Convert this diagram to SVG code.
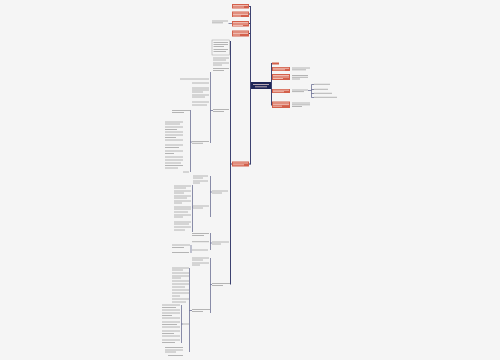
<svg xmlns="http://www.w3.org/2000/svg" width="500" height="360" viewBox="0 0 500 360">
<style>
.c{fill:none;stroke:#3d4270;stroke-width:1}
.c2{fill:none;stroke:#5a5f86;stroke-width:0.7}
.tl{fill:none;stroke:#a3a3a3;stroke-width:0.8}
.wt{fill:none;stroke:#fbe3dc;stroke-width:0.7}
.o{fill:#d3604b}
.n{fill:#1e2657}
.box{fill:none;stroke:#a0a0a0;stroke-width:0.5}
</style>
<rect width="500" height="360" fill="#f5f5f5"/>
<g id="connectors">
<path class="c" d="M271.5 63 V105.5 M250.5 6 V164.5 M249 6.5 H250.5 M249 14 H250.5 M249 23.5 H250.5 M249 33.5 H250.5 M249 164 H250.5 M230.5 41 V284.5 M230.5 164 H232"/>
<path class="c2" d="M308 90.5 H311.5 M311.5 84.5 V97.5 M311.5 84.5 H314 M311.5 89.5 H314 M311.5 93.5 H314 M311.5 97.5 H314 M228.5 23.5 H232"/>
<path class="c2" d="M210.5 72 V143 M210.5 110.5 H213 M190.5 110 V172 M190.5 142 H192"/>
<path class="c2" d="M210.5 176 V217 M210.5 192 H212 M192.5 185 V232 M192.5 207 H193"/>
<path class="c2" d="M210.5 233 V250 M210.5 243 H212 M191 245 V253"/>
<path class="c2" d="M210.5 258 V313 M210.5 284.5 H212 M189.5 268 V352 M189.5 310.5 H192 M181.5 305 V343 M181.5 324 H183"/>
</g>
<g id="central"><rect class="n" x="251" y="82" width="20" height="7"/><path class="wt" d="M253 84.5 H269 M255 86.8 H267"/></g>
<g id="r-tag"><rect class="o" x="272" y="62.5" width="7" height="2"/></g>
<g id="r1"><rect class="o" x="272" y="67" width="18" height="4"/><path class="wt" d="M273 68.3 H289 M273 69.8 H285"/><path class="tl" d="M292 68 H310 M292 69.8 H306"/></g>
<g id="r2"><rect class="o" x="272" y="74" width="18" height="6"/><path class="wt" d="M273 75.5 H289 M273 77 H289 M273 78.5 H283"/><path class="tl" d="M292 75.5 H308 M292 77.3 H308 M292 79 H300"/></g>
<g id="r3"><rect class="o" x="272" y="89" width="18" height="4"/><path class="wt" d="M273 90.2 H289 M273 91.7 H284"/><path class="tl" d="M292 90 H308 M292 91.6 H304"/></g>
<g id="r3-items"><path class="tl" d="M314 84.3 H330 M314 89.3 H328 M314 93.3 H332 M314 97.3 H337"/></g>
<g id="r4"><rect class="o" x="272" y="101.5" width="18" height="6.5"/><path class="wt" d="M273 103 H289 M273 104.6 H289 M273 106.2 H282"/><path class="tl" d="M292 103 H310 M292 104.8 H310 M292 106.5 H302"/></g>
<g id="l1"><rect class="o" x="232" y="4" width="17" height="4.5"/><path class="wt" d="M233 5.5 H248 M233 7 H244"/></g>
<g id="l2"><rect class="o" x="232" y="11.5" width="17" height="5.5"/><path class="wt" d="M233 13 H248 M233 14.5 H248 M233 16 H241"/></g>
<g id="l3"><rect class="o" x="232" y="21" width="17" height="5.5"/><path class="wt" d="M233 22.5 H248 M233 24 H248 M233 25.5 H243"/></g>
<g id="l4"><rect class="o" x="232" y="30.5" width="17" height="6"/><path class="wt" d="M233 32 H248 M233 33.5 H248 M233 35 H240"/></g>
<g id="l5"><rect class="o" x="232" y="161.5" width="17" height="5"/><path class="wt" d="M233 163 H248 M233 164.8 H244"/></g>
<g id="l3-child"><path class="tl" d="M212 21 H228 M212 22.8 H223"/></g>
<g id="box"><rect class="box" x="212" y="40" width="17.5" height="15"/><path class="tl" d="M213.5 42.5 H228 M213.5 44.5 H228 M213.5 46.5 H224 M213.5 49.5 H228 M213.5 51.5 H226"/></g>
<g id="t1"><path class="tl" d="M213 58 H229 M213 60 H226 M213 63 H229 M213 65 H222 M213 68.5 H229 M213 70.5 H224"/></g>
<g id="t2"><path class="tl" d="M213 109.5 H229 M213 111.5 H224"/></g>
<g id="t2-items"><path class="tl" d="M180 79 H209 M192 83 H209 M192 88 H209 M192 90 H209 M192 92 H203 M192 95 H209 M192 97 H205 M192 102 H209 M192 105 H207"/></g>
<g id="t2b"><path class="tl" d="M192 141.5 H209 M192 143.3 H203"/></g>
<g id="t2b-items"><path class="tl" d="M172 110.5 H190 M172 112.5 H184 M165 122 H183 M165 124 H180 M165 127 H183 M165 129.5 H177 M165 132 H183 M165 135 H183 M165 137.5 H176 M165 140 H183 M165 145 H183 M165 147.5 H179 M165 151 H183 M165 153.5 H174 M165 157 H183 M165 160 H183 M165 163 H181 M165 165.5 H183 M165 168 H178 M183 172 H189"/></g>
<g id="t3"><path class="tl" d="M212 191 H228 M212 193 H222"/></g>
<g id="t3-items"><path class="tl" d="M193 176 H208 M193 178 H203 M193 181 H208 M193 183 H200 M193 206 H209 M193 208 H203"/></g>
<g id="t3b-items"><path class="tl" d="M174 186 H191 M174 188 H186 M174 191 H191 M174 193 H184 M174 196 H191 M174 198 H187 M174 201 H191 M174 203 H182 M174 207 H191 M174 209 H191 M174 212 H188 M174 215 H191 M174 217 H183 M174 222 H191 M174 224 H189 M174 227 H191 M174 230 H185"/></g>
<g id="t4"><path class="tl" d="M212 242 H229 M212 244 H221"/></g>
<g id="t4-items"><path class="tl" d="M192 233.5 H209 M192 235.5 H204 M192 241.7 H209 M192 250 H208 M172 245 H190 M172 247.5 H184 M172 252.5 H189"/></g>
<g id="t5"><path class="tl" d="M212 283.5 H230 M212 285.5 H223"/></g>
<g id="t5-items"><path class="tl" d="M192 258 H209 M192 260 H203 M192 263 H209 M192 265 H200 M192 309.5 H210 M192 311.5 H203"/></g>
<g id="t5b-items"><path class="tl" d="M172 268 H189 M172 270 H183 M172 273 H189 M172 276 H189 M172 278 H181 M172 281 H189 M172 284 H189 M172 287 H185 M172 290 H189 M172 293 H189 M172 296 H180 M172 299 H189 M172 302 H186 M183 324 H189"/></g>
<g id="t5c-items"><path class="tl" d="M162 305 H180 M162 307.5 H176 M162 310 H180 M162 313 H180 M162 315.5 H172 M162 318 H180 M162 322 H180 M162 324.5 H177 M162 327 H180 M162 331 H180 M162 333.5 H174 M162 336 H180 M162 340 H180 M162 342.5 H175"/></g>
<g id="t5d"><path class="tl" d="M165 347.5 H183 M165 350 H183 M165 352 H176 M168 355.5 H183"/></g>
</svg>
